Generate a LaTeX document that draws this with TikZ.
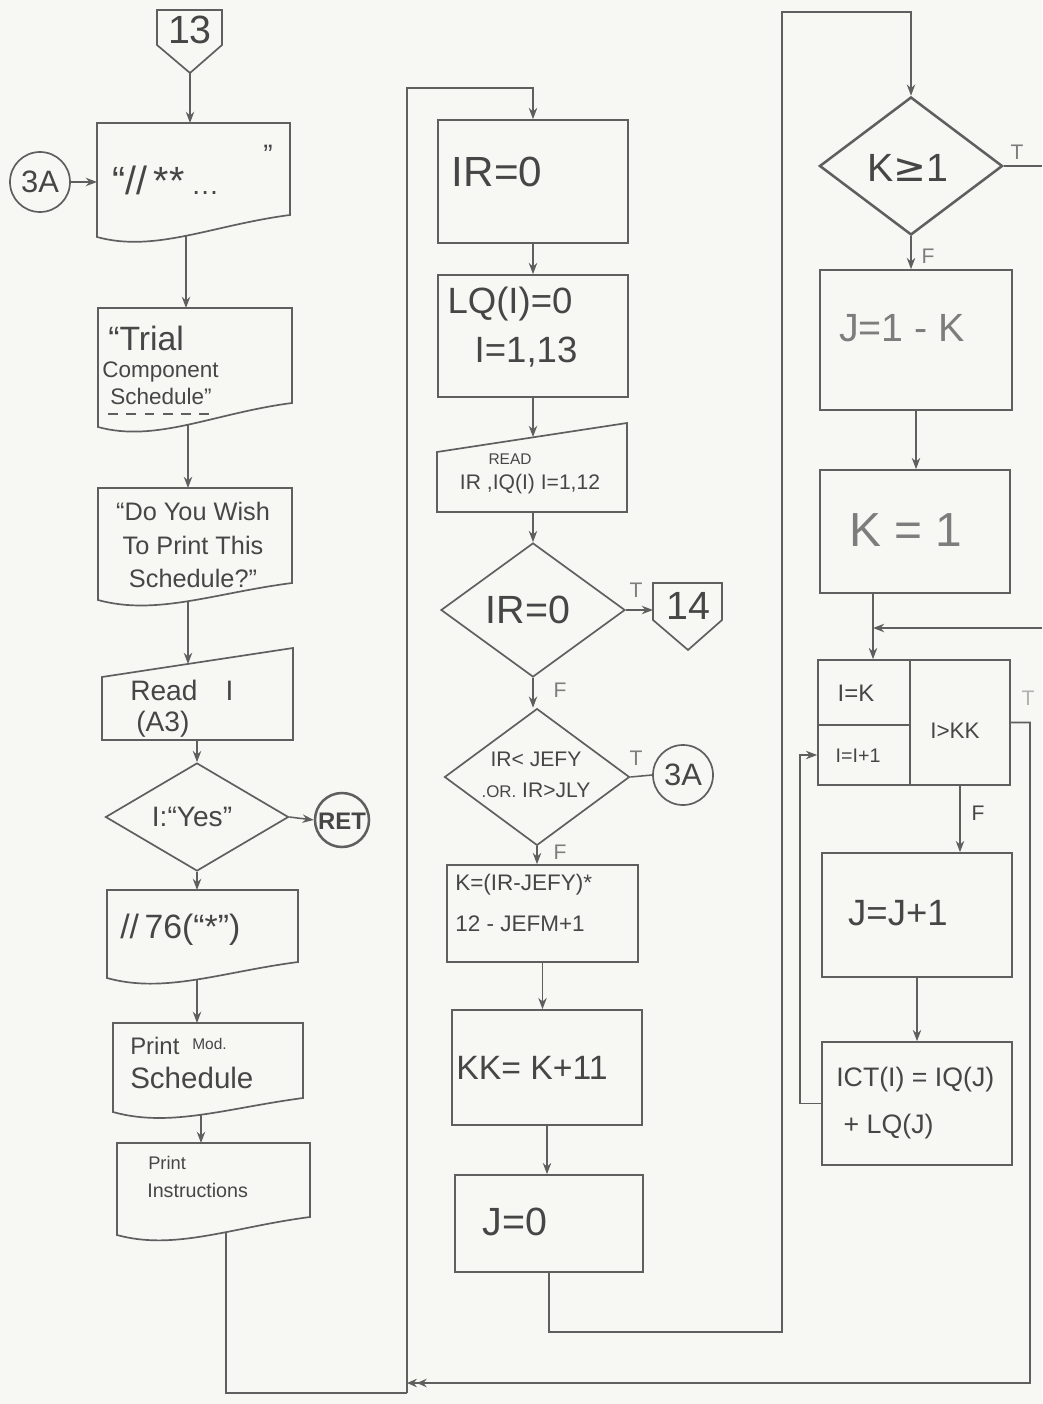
\documentclass[tikz,border=0pt]{standalone}
\usepackage{fontspec}
\setmainfont{Liberation Sans}
\newfontfamily\symfont{DejaVu Sans}
\usetikzlibrary{arrows.meta,shapes.geometric,fit}
\definecolor{bgcol}{RGB}{247,247,244}
\definecolor{linecol}{RGB}{95,95,95}
\definecolor{textcol}{RGB}{70,70,70}
\definecolor{lighttext}{RGB}{125,125,125}
\newcommand\fs[2]{\fontsize{#1}{#2}\selectfont}
\newcommand\docshape[5]{%
  \draw[shp] (#1,#3) -- (#2,#3) -- (#2,#5)
    .. controls ({#1+0.6*(#2-#1)},{#5+10}) and ({#1+0.3*(#2-#1)},{#4+16}) .. (#1,#4) -- cycle;}
\begin{document}
\begin{tikzpicture}[x=0.025cm,y=-0.025cm,
  shp/.style={draw=linecol,line width=1.2pt},
  box/.style={shp,rectangle,inner sep=0pt},
  dia/.style={shp,diamond,inner sep=0pt},
  circ/.style={shp,circle,inner sep=0pt,minimum size=1.5cm},
  ln/.style={draw=linecol,line width=1.1pt},
  arr/.style={ln,-{Stealth[length=8pt,width=6pt]}},
  arrtwo/.style={ln,-{Stealth[length=7pt,width=6pt]Stealth[length=7pt,width=6pt]}},
  txt/.style={text=textcol,inner sep=0pt,align=left},
  lighttxt/.style={text=lighttext,inner sep=0pt,align=left},
  lbl/.style={text=lighttext,inner sep=0pt,font=\fs{15}{15}}]
\fill[bgcol] (0,0) rectangle (1042,1404);
\useasboundingbox (0,0) rectangle (1042,1404);

% ---------------- left column ----------------
\draw[shp] (157,10) -- (222,10) -- (222,45) -- (190,73) -- (157,45) -- cycle;
\node[txt,font=\fs{28}{28}] (t13) at (190,30) {13};
\coordinate (p13b) at (190,73);

\node[circ] (c3a) at (40,182) {};
\node[txt,font=\fs{22}{22}] (t3a) at (40,182) {3A};

\docshape{97}{290}{123}{237}{215}
\coordinate (d1t) at (190,123);
\coordinate (d1l) at (97,182);
\coordinate (d1b) at (186,236);
\node[txt,anchor=west,font=\fs{28}{28}] (td1) at (112,180) {“//\,**\,\fs{20}{20}\ldots};
\node[txt,font=\fs{20}{20}] (td1q) at (268,155) {”};

\docshape{98}{292}{308}{427}{403}
\coordinate (d2t) at (186,308);
\coordinate (d2b) at (188,425);
\node[txt,anchor=west,font=\fs{24}{24}] (td2a) at (108,338) {“Trial};
\node[txt,anchor=west,font=\fs{16}{16}] (td2b) at (102,372) {Component};
\node[txt,anchor=west,font=\fs{16}{16}] (td2c) at (110,396) {Schedule”};
\draw[ln,line width=0.9pt,dash pattern=on 7pt off 6pt] (108,414) -- (212,414);

\docshape{98}{292}{488}{600}{583}
\coordinate (d3t) at (188,488);
\coordinate (d3b) at (188,601);
\node[txt,align=center,font=\fs{18}{24}] (td3) at (193,545) {“Do You Wish\\To Print This\\Schedule?”};

\draw[shp] (102,677) -- (293,648) -- (293,740) -- (102,740) -- cycle;
\coordinate (rdt) at (188,664);
\coordinate (rdb) at (197,740);
\node[txt,anchor=west,font=\fs{20}{20}] (trd1) at (130,690) {Read\quad I};
\node[txt,anchor=west,font=\fs{20}{20}] (trd2) at (136,724) {(A3)};

\node[dia,minimum width=4.575cm,minimum height=2.7cm] (dia1) at (197,817) {};
\node[txt,font=\fs{20}{20}] (tdia1) at (192,817) {I:“Yes”};
\node[shp,circle,inner sep=0pt,minimum size=1.35cm,line width=1.8pt] (ret) at (342,820) {};
\node[txt,font=\bfseries\fs{17}{17}] (tret) at (342,821) {RET};

\docshape{107}{298}{890}{978}{962}
\coordinate (d4t) at (197,890);
\coordinate (d4b) at (197,980);
\node[txt,anchor=west,font=\fs{24}{24}] (td4) at (120,930) {//\,76(“*”)};

\docshape{113}{303}{1023}{1112}{1098}
\coordinate (d5t) at (197,1023);
\coordinate (d5b) at (201,1115);
\node[txt,anchor=west,font=\fs{17}{17}] (td5a) at (130,1046) {Print};
\node[txt,anchor=west,font=\fs{11}{11}] (td5m) at (192,1044) {Mod.};
\node[txt,anchor=west,font=\fs{21}{21}] (td5b) at (130,1078) {Schedule};

\docshape{117}{310}{1143}{1235}{1217}
\coordinate (d6t) at (201,1143);
\coordinate (d6b) at (226,1232);
\node[txt,anchor=west,font=\fs{13}{13}] (td6a) at (148,1163) {Print};
\node[txt,anchor=west,font=\fs{14}{14}] (td6b) at (147,1190) {Instructions};

\coordinate (lb1) at (407,1393);
\coordinate (lt1) at (407,88);

% ---------------- middle column ----------------
\node[box,fit={(438,120) (628,243)}] (ir0) {};
\node[txt,font=\fs{30}{30}] (tir0) at (497,172) {IR=0};
\node[box,fit={(438,275) (628,397)}] (lq) {};
\node[txt,font=\fs{26}{26}] (tlq1) at (510,304) {LQ(I)=0};
\node[txt,font=\fs{26}{26}] (tlq2) at (526,352) {I=1,13};
\draw[shp] (437,452) -- (627,423) -- (627,512) -- (437,512) -- cycle;
\coordinate (r2t) at (533,437);
\coordinate (r2b) at (533,512);
\node[txt,font=\fs{11}{11}] (tr2a) at (510,459) {READ};
\node[txt,font=\fs{15}{15}] (tr2b) at (530,484) {IR ,IQ(I) I=1,12};
\node[dia,minimum width=4.6cm,minimum height=3.35cm] (diz) at (533,610) {};
\node[txt,font=\fs{28}{28}] (tdiz) at (528,610) {IR=0};
\draw[shp] (653,583) -- (722,583) -- (722,620) -- (688,650) -- (653,620) -- cycle;
\coordinate (p14) at (653,610);
\node[txt,font=\fs{28}{28}] (t14) at (688,606) {14};
\node[dia,minimum width=4.625cm,minimum height=3.42cm] (dib) at (537,777) {};
\node[txt,align=center,font=\fs{15}{22}] (tdib) at (536,775) {IR< JEFY\\{\fs{12}{12}.OR.} IR>JLY};
\node[circ] (c3b) at (683,775) {};
\node[txt,font=\fs{22}{22}] (tc3b) at (683,775) {3A};
\node[box,fit={(447,865) (638,962)}] (kb) {};
\node[txt,anchor=west,font=\fs{16}{29}] (tkb) at (455,903) {K=(IR-JEFY)*\\12 - JEFM+1};
\node[box,fit={(452,1010) (642,1125)}] (kk) {};
\node[txt,font=\fs{24}{24}] (tkk) at (532,1068) {KK= K+11};
\node[box,fit={(455,1175) (643,1272)}] (j0) {};
\node[txt,font=\fs{28}{28}] (tj0) at (515,1222) {J=0};

\node[lbl] (lt14) at (636,590) {T};
\node[lbl] (lf1) at (560,690) {F};
\node[lbl] (lt3a) at (636,758) {T};
\node[lbl] (lf2) at (560,852) {F};

% left connectors
\draw[arr] (p13b) -- (d1t);
\draw[arr] (c3a.east) -- (d1l);
\draw[arr] (d1b) -- (d2t);
\draw[arr] (d2b) -- (d3t);
\draw[arr] (d3b) -- (rdt);
\draw[arr] (rdb) -- (dia1.north);
\draw[arr] (dia1.east) -- (ret.west);
\draw[arr] (dia1.south) -- (d4t);
\draw[arr] (d4b) -- (d5t);
\draw[arr] (d5b) -- (d6t);
\draw[ln] (d6b) |- (lb1);
\draw[arr] (lb1) -- (lt1) -| (ir0.north);

% middle connectors
\draw[arr] (ir0.south) -- (lq.north);
\draw[arr] (lq.south) -- (lq.south |- r2t);
\draw[arr] (r2b) -- (r2b |- diz.north);
\draw[arr] (diz.east) -- (p14);
\draw[arr] (diz.south) -- (diz.south |- dib.north);
\draw[ln] (dib.east) -- (c3b.west);
\draw[arr] (dib.south) -- (dib.south |- kb.north);
\draw[arr] (kb.south) -- (kb.south |- kk.north);
\draw[arr] (kk.south) -- (kk.south |- j0.north);
\coordinate (rb1) at (782,1332);
\coordinate (rt1) at (782,12);

% ---------------- right column ----------------
\node[dia,minimum width=4.575cm,minimum height=3.45cm,line width=1.8pt] (kge) at (911,166) {};
\node[txt,font=\fs{28}{28}] (tkge) at (908,168) {K{\symfont ≥}1};
\node[box,fit={(820,270) (1012,410)}] (j1k) {};
\node[lighttxt,font=\fs{28}{28}] (tj1k) at (902,328) {J=1 - K};
\node[box,fit={(820,470) (1010,593)}] (k1) {};
\node[lighttxt,font=\fs{34}{34}] (tk1) at (906,530) {K = 1};
\node[box,fit={(818,660) (910,725)}] (lpA) {};
\node[box,fit={(818,725) (910,785)}] (lpB) {};
\node[box,fit={(910,660) (1010,785)}] (lpC) {};
\node[txt,font=\fs{17}{17}] (tlpA) at (856,693) {I=K};
\node[txt,font=\fs{14}{14}] (tlpB) at (858,756) {I=I+1};
\node[txt,font=\fs{16}{16}] (tlpC) at (955,731) {I>KK};
\node[box,fit={(822,853) (1012,977)}] (jj1) {};
\node[txt,font=\fs{26}{26}] (tjj1) at (898,913) {J=J+1};
\node[box,fit={(822,1042) (1012,1165)}] (ict) {};
\node[txt,anchor=west,font=\fs{19}{34}] (tict) at (836,1103) {ICT(I) = IQ(J)\\\ + LQ(J)};

\node[lbl] (ltk) at (1017,152) {T};
\node[lbl] (lfk) at (928,256) {F};
\node[lbl,text=lighttext!60] (ltl) at (1028,698) {T};
\node[lbl,text=textcol] (lfl) at (978,813) {F};

\coordinate (edge1) at (1042,166);
\coordinate (edge2) at (1042,628);
\coordinate (jn) at (873,628);
\coordinate (rr1) at (1030,722.5);
\coordinate (lm1) at (407,1383);
\coordinate (lb3) at (800,1103);

\draw[arr] (j0.south) |- (rb1) -- (rt1) -| (kge.north);
\draw[ln] (kge.east) -- (edge1);
\draw[arr] (kge.south) -- (kge.south |- j1k.north);
\draw[arr] (j1k.south) -- (j1k.south |- k1.north);
\draw[ln] (k1.south -| jn) -- (jn);
\draw[arr] (jn) -- (jn |- lpA.north);
\draw[arr] (edge2) -- (jn);
\draw[arrtwo] (lpC.east) -- (rr1) |- (lm1);
\draw[arr] (lpC.south) -- (lpC.south |- jj1.north);
\draw[arr] (jj1.south) -- (jj1.south |- ict.north);
\draw[arr] (ict.west) -- (ict.west -| lb3) |- (lpB.west);
\end{tikzpicture}
\end{document}
